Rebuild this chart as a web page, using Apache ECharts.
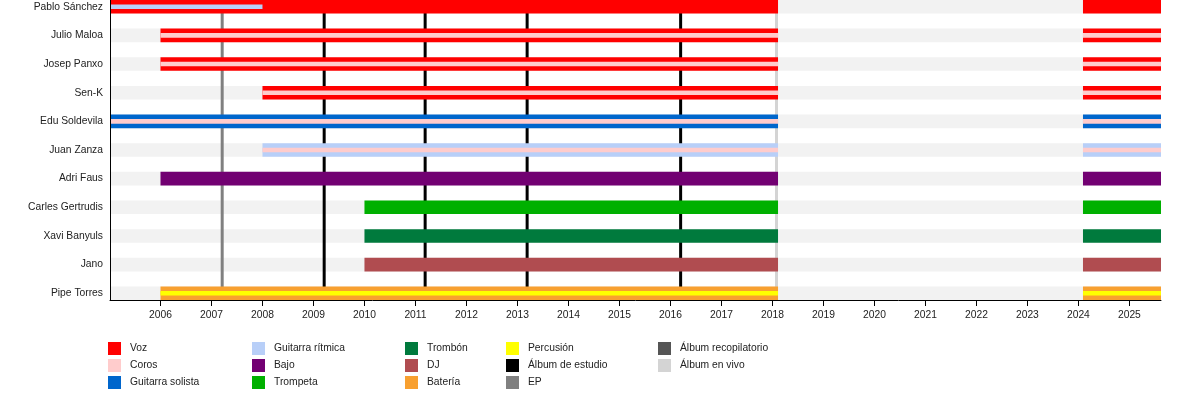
<!DOCTYPE html>
<html>
<head>
<meta charset="utf-8">
<script src="https://cdn.jsdelivr.net/npm/echarts@6/dist/echarts.min.js"></script>
<style>html,body{margin:0;padding:0;background:#fff}#c{width:1200px;height:395px}</style>
</head>
<body>
<div id="c"></div>
<script>
// ---- data ----
const members = ['Pablo Sánchez','Julio Maloa','Josep Panxo','Sen-K','Edu Soldevila','Juan Zanza','Adri Faus','Carles Gertrudis','Xavi Banyuls','Jano','Pipe Torres'];
const joinDates = [2005.01, 2006, 2006, 2008, 2005.01, 2008, 2006, 2010, 2010, 2010, 2006];
const mainRoles = ['Voz','Voz','Voz','Voz','Guitarra solista','Guitarra rítmica','Bajo','Trompeta','Trombón','DJ','Batería'];
// [member index, role, start, end]
const stripeSpans = [
  [0, 'Guitarra rítmica', 2005.01, 2008],
  [1, 'Coros', 2006, 2025.62],
  [2, 'Coros', 2006, 2025.62],
  [3, 'Coros', 2008, 2025.62],
  [4, 'Coros', 2005.01, 2025.62],
  [5, 'Coros', 2008, 2025.62],
  [10, 'Percusión', 2006, 2025.62]
];
const activePeriods = [[2005.01, 2018.11], [2024.09, 2025.62]];
const timeStart = 2005.01, timeEnd = 2025.62;
const yearTicks = [2006,2007,2008,2009,2010,2011,2012,2013,2014,2015,2016,2017,2018,2019,2020,2021,2022,2023,2024,2025];
const studioAlbums = [2009.21, 2011.19, 2013.19, 2016.20];
const epReleases = [2007.21];
const compilationAlbums = [];
const liveAlbums = [2018.08];

// ---- styles ----
const roleColors = {
  'Voz':'#ff0000','Coros':'#ffcccc','Guitarra solista':'#0066cc','Guitarra rítmica':'#b8cff8',
  'Bajo':'#720072','Trompeta':'#00b000','Trombón':'#007a3d','DJ':'#b04c50',
  'Batería':'#f8a030','Percusión':'#ffff00'
};
const releaseTypes = [
  ['Álbum de estudio', studioAlbums, '#000000'],
  ['EP', epReleases, '#808080'],
  ['Álbum recopilatorio', compilationAlbums, '#555555'],
  ['Álbum en vivo', liveAlbums, '#d4d4d4']
];
const legendColumns = [
  ['Voz','Coros','Guitarra solista'],
  ['Guitarra rítmica','Bajo','Trompeta'],
  ['Trombón','DJ','Batería'],
  ['Percusión','Álbum de estudio','EP'],
  ['Álbum recopilatorio','Álbum en vivo']
];
const legendLefts = [108, 252, 405, 506, 658];
const FONT = "'Liberation Sans', Arial, sans-serif";
const BAR_H = 13.6, STRIPE_H = 4.6;

// ---- build segments ----
const roleData = {};
Object.keys(roleColors).forEach(r => roleData[r] = []);
members.forEach((m, i) => {
  activePeriods.forEach(([ps, pe]) => {
    const s = Math.max(ps, joinDates[i]);
    if (s < pe) roleData[mainRoles[i]].push([i, s, pe, 0]);
  });
});
stripeSpans.forEach(([i, role, st, en]) => {
  activePeriods.forEach(([ps, pe]) => {
    const s = Math.max(ps, st), e = Math.min(pe, en);
    if (s < e) roleData[role].push([i, s, e, 1]);
  });
});

function barRender(params, api) {
  const i = api.value(0), s = api.value(1), e = api.value(2), k = api.value(3);
  const p1 = api.coord([s, i]), p2 = api.coord([e, i]);
  const h = k ? STRIPE_H : BAR_H;
  return {type:'rect', z2: k ? 10 : 0,
    shape:{x:p1[0], y:p1[1]-h/2, width:p2[0]-p1[0], height:h},
    style:{fill: api.visual('color')}};
}

const series = [];
// background bands
series.push({
  type:'custom', name:'_bg', z:1, silent:true,
  data: members.map((m, i) => [i, timeStart, timeEnd]),
  encode:{x:[1,2], y:0},
  renderItem(params, api) {
    const i = api.value(0);
    const p1 = api.coord([api.value(1), i]), p2 = api.coord([api.value(2), i]);
    return {type:'rect', shape:{x:p1[0], y:p1[1]-BAR_H/2, width:p2[0]-p1[0], height:BAR_H}, style:{fill:'#f2f2f2'}};
  }
});
// release lines
releaseTypes.forEach(([name, list, color]) => {
  series.push({
    type:'custom', name, z:2, itemStyle:{color},
    data: list.map(v => [v]),
    encode:{x:0},
    renderItem(params, api) {
      const x = api.coord([api.value(0), 0])[0];
      const cs = params.coordSys;
      return {type:'line', shape:{x1:x, y1:cs.y, x2:x, y2:cs.y+cs.height}, style:{stroke:color, lineWidth:3}};
    }
  });
});
// role bars
Object.keys(roleColors).forEach(role => {
  series.push({
    type:'custom', name: role, z:3, itemStyle:{color: roleColors[role]},
    data: roleData[role], encode:{x:[1,2], y:0},
    renderItem: barRender
  });
});

const legends = legendColumns.map((col, ci) => ({
  data: col, orient:'vertical', left: legendLefts[ci], top: 342, padding: 0,
  icon:'rect', itemWidth:13, itemHeight:13, itemGap:4, selectedMode:false,
  itemStyle:{borderWidth:0},
  textStyle:{fontFamily:FONT, fontSize:10.3, color:'#222', padding:[0,0,0,4]}
}));

const chart = echarts.init(document.getElementById('c'), null, {renderer:'canvas'});
chart.setOption({
  animation:false,
  backgroundColor:'#fff',
  grid:{left:110, right:39, top:0, bottom:95, containLabel:false},
  xAxis:{
    type:'value', min:timeStart, max:timeEnd, z:10, position:'bottom',
    axisLine:{show:true, onZero:false, lineStyle:{color:'#000', width:1}},
    axisTick:{show:true, length:6, customValues: yearTicks, lineStyle:{color:'#000'}},
    axisLabel:{customValues: yearTicks, formatter: v => String(Math.round(v)), margin:10,
      fontFamily:FONT, fontSize:10.3, color:'#222'},
    splitLine:{show:false}
  },
  yAxis:{
    type:'value', min:-0.234, max:10.234, inverse:true, z:10, position:'left',
    axisLine:{show:true, onZero:false, lineStyle:{color:'#000', width:1}},
    axisTick:{show:false},
    axisLabel:{customValues: members.map((m, i) => i), formatter: v => members[Math.round(v)] || '',
      margin:7, fontFamily:FONT, fontSize:10.3, color:'#222'},
    splitLine:{show:false}
  },
  legend: legends,
  series
});
</script>
</body>
</html>
